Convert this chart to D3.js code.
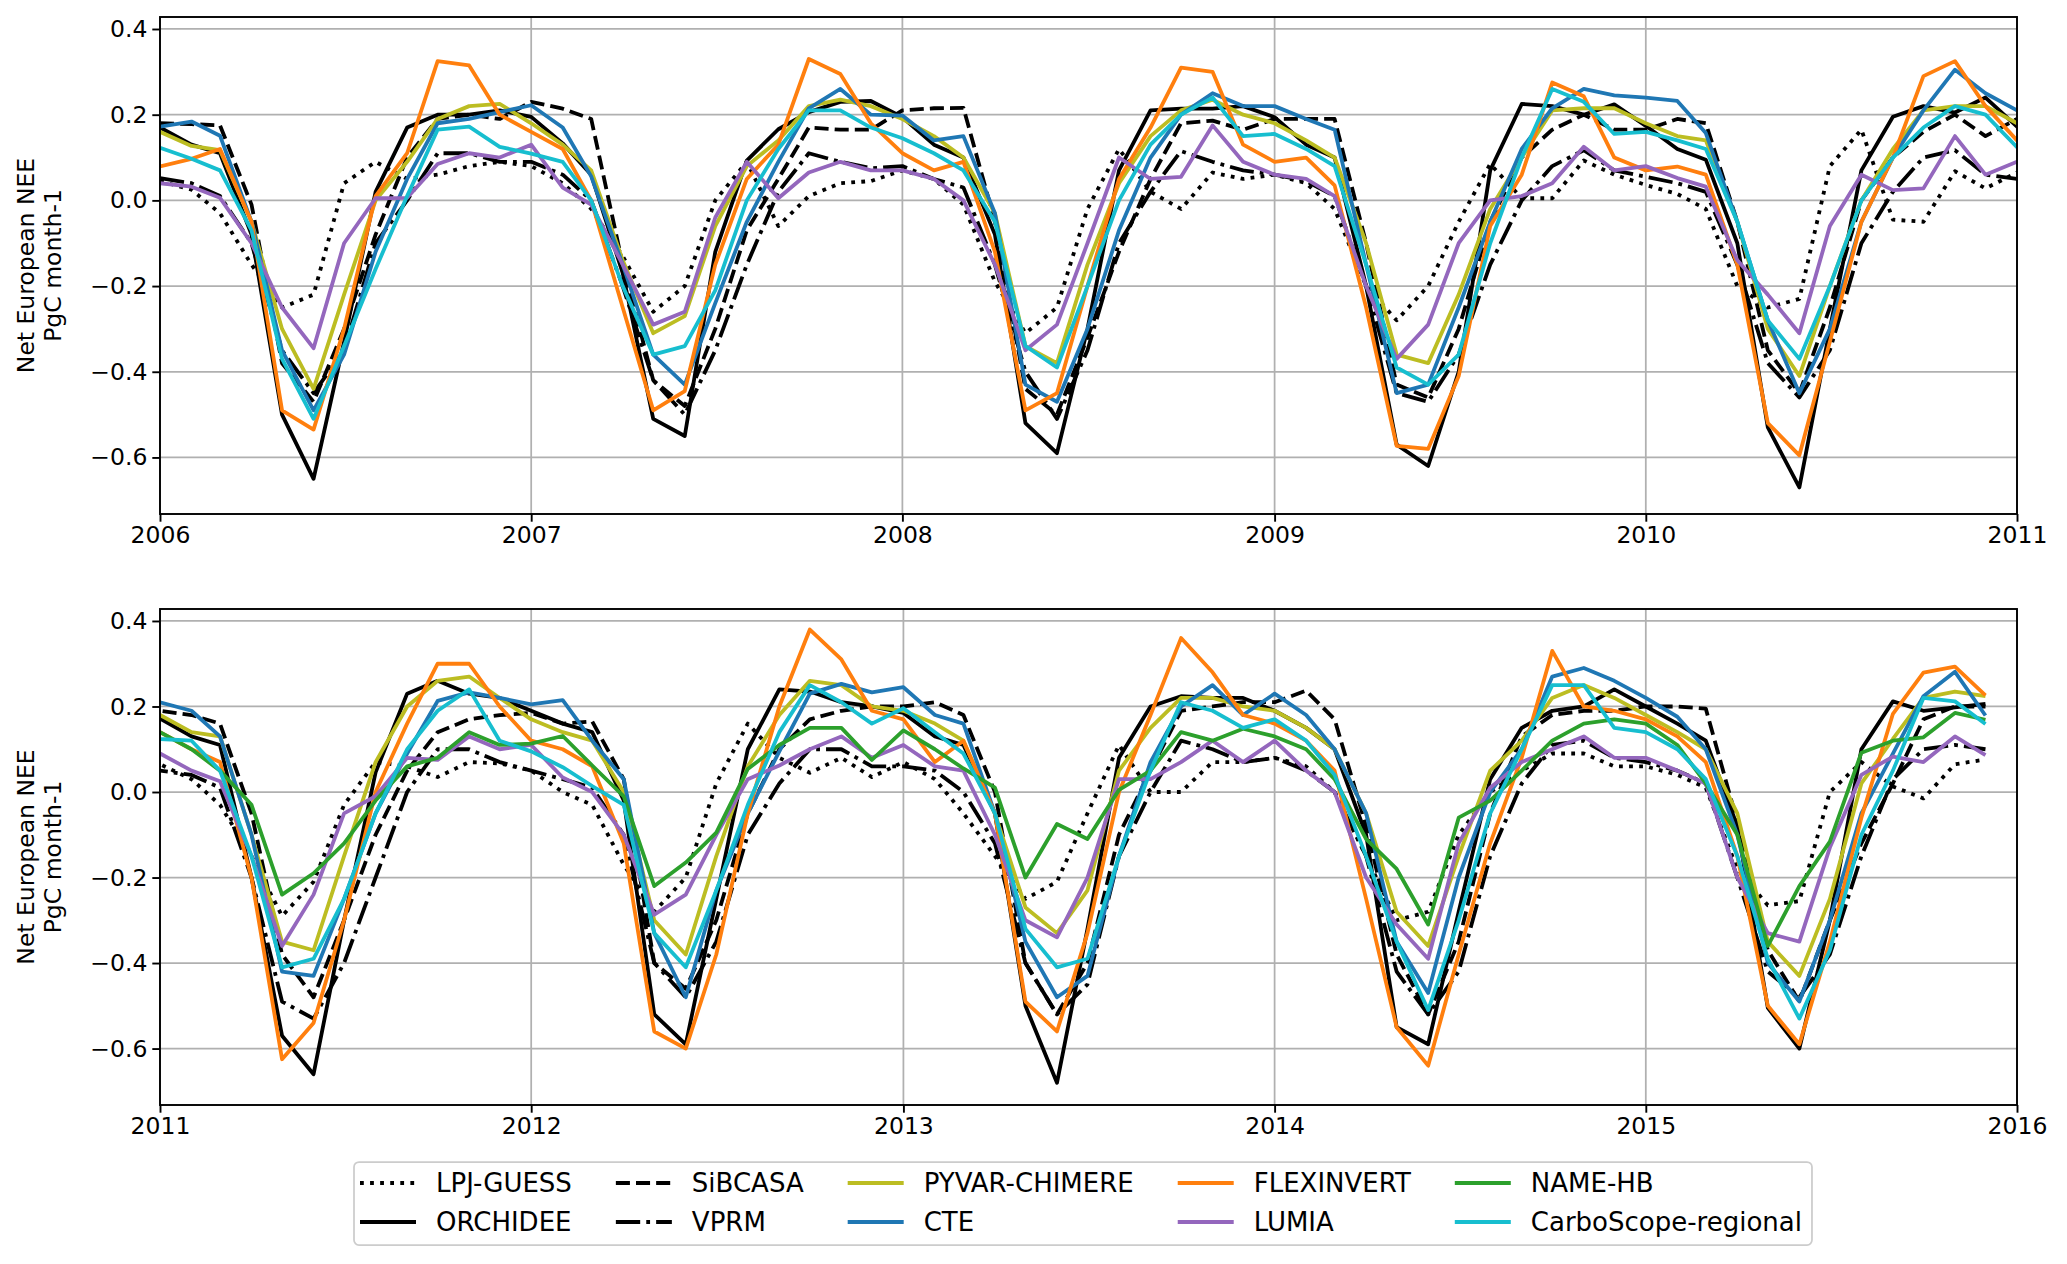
<!DOCTYPE html>
<html>
<head>
<meta charset="utf-8">
<script src="https://cdn.jsdelivr.net/npm/d3@7/dist/d3.min.js"></script>
<style>
body { margin: 0; background: #fff; }
svg text { font-family: "DejaVu Sans", sans-serif; fill: #000; }
</style>
</head>
<body>
<div id="chart"></div>
<script>
// monthly values, Jan 2006 .. Dec 2015 (PgC month-1)
var seriesNames = ["LPJ-GUESS", "ORCHIDEE", "SiBCASA", "VPRM", "PYVAR-CHIMERE",
	"CTE", "FLEXINVERT", "LUMIA", "NAME-HB", "CarboScope-regional"];

var lpjGuess = [
	0.045, 0.025, -0.03, -0.15, -0.25, -0.22, 0.04, 0.09, 0.05, 0.06, 0.08, 0.09,
	0.08, 0.04, -0.02, -0.13, -0.26, -0.20, 0.00, 0.09, -0.06, 0.01, 0.04, 0.045,
	0.07, 0.05, -0.01, -0.19, -0.31, -0.25, -0.02, 0.12, 0.02, -0.02, 0.065, 0.05,
	0.06, 0.04, -0.02, -0.20, -0.28, -0.20, -0.05, 0.085, 0.005, 0.005, 0.093, 0.06,
	0.036, 0.015, -0.02, -0.20, -0.25, -0.23, 0.08, 0.165, -0.045, -0.05, 0.068, 0.028,
	0.065, 0.03, -0.03, -0.15, -0.29, -0.21, -0.03, 0.07, 0.06, 0.035, 0.07, 0.067,
	0.05, 0.00, -0.03, -0.17, -0.28, -0.20, 0.02, 0.16, 0.08, 0.045, 0.08, 0.035,
	0.07, 0.03, -0.05, -0.15, -0.25, -0.21, -0.05, 0.11, 0.00, 0.00, 0.07, 0.07,
	0.08, 0.06, 0.00, -0.15, -0.30, -0.28, -0.10, 0.00, 0.05, 0.09, 0.09, 0.06,
	0.06, 0.04, 0.01, -0.18, -0.265, -0.255, 0.00, 0.07, 0.013, -0.015, 0.065, 0.076
];
var orchidee = [
	0.17, 0.13, 0.11, -0.08, -0.50, -0.65, -0.33, 0.02, 0.17, 0.20, 0.20, 0.21,
	0.195, 0.133, 0.06, -0.17, -0.51, -0.55, -0.12, 0.093, 0.166, 0.206, 0.23, 0.232,
	0.194, 0.13, 0.10, -0.08, -0.52, -0.59, -0.30, 0.07, 0.21, 0.214, 0.214, 0.22,
	0.194, 0.13, 0.10, -0.20, -0.57, -0.62, -0.40, 0.07, 0.225, 0.22, 0.20, 0.224,
	0.174, 0.12, 0.095, -0.10, -0.53, -0.67, -0.30, 0.07, 0.195, 0.22, 0.205, 0.24,
	0.172, 0.13, 0.11, -0.20, -0.57, -0.66, -0.30, 0.046, 0.23, 0.26, 0.23, 0.22,
	0.19, 0.16, 0.14, -0.02, -0.52, -0.59, -0.25, 0.10, 0.24, 0.235, 0.21, 0.20,
	0.185, 0.13, 0.11, -0.05, -0.50, -0.68, -0.32, 0.08, 0.20, 0.224, 0.22, 0.22,
	0.19, 0.15, 0.10, -0.10, -0.55, -0.59, -0.28, 0.03, 0.15, 0.19, 0.20, 0.24,
	0.20, 0.16, 0.12, -0.08, -0.505, -0.60, -0.30, 0.10, 0.212, 0.19, 0.198, 0.206
];
var sibcasa = [
	0.18, 0.178, 0.175, -0.01, -0.38, -0.47, -0.30, -0.08, 0.10, 0.19, 0.20, 0.19,
	0.23, 0.214, 0.19, -0.15, -0.42, -0.48, -0.30, -0.07, 0.05, 0.17, 0.165, 0.165,
	0.21, 0.215, 0.216, -0.05, -0.44, -0.50, -0.32, -0.12, 0.05, 0.18, 0.186, 0.165,
	0.19, 0.19, 0.19, -0.10, -0.43, -0.46, -0.30, -0.05, 0.10, 0.165, 0.20, 0.165,
	0.165, 0.19, 0.18, -0.05, -0.35, -0.45, -0.25, 0.00, 0.10, 0.16, 0.20, 0.15,
	0.19, 0.18, 0.16, -0.05, -0.38, -0.48, -0.30, -0.10, 0.05, 0.14, 0.17, 0.18,
	0.185, 0.16, 0.165, 0.03, -0.40, -0.46, -0.30, -0.05, 0.10, 0.17, 0.19, 0.20,
	0.20, 0.21, 0.18, 0.00, -0.40, -0.52, -0.40, -0.10, 0.05, 0.19, 0.20, 0.21,
	0.21, 0.237, 0.17, -0.08, -0.38, -0.52, -0.35, -0.05, 0.13, 0.18, 0.19, 0.19,
	0.20, 0.20, 0.195, -0.07, -0.37, -0.49, -0.30, -0.12, 0.02, 0.17, 0.20, 0.20
];
var vprm = [
	0.052, 0.04, 0.01, -0.10, -0.35, -0.45, -0.35, -0.10, 0.00, 0.11, 0.11, 0.09,
	0.09, 0.06, 0.00, -0.20, -0.42, -0.50, -0.35, -0.15, 0.02, 0.11, 0.09, 0.075,
	0.08, 0.05, 0.03, -0.15, -0.40, -0.51, -0.35, -0.10, 0.02, 0.115, 0.09, 0.07,
	0.06, 0.045, 0.01, -0.20, -0.45, -0.47, -0.36, -0.15, 0.00, 0.08, 0.117, 0.07,
	0.055, 0.04, 0.02, -0.15, -0.38, -0.46, -0.35, -0.10, 0.02, 0.10, 0.117, 0.06,
	0.05, 0.04, 0.01, -0.20, -0.49, -0.53, -0.40, -0.20, 0.00, 0.10, 0.10, 0.07,
	0.05, 0.03, 0.01, -0.10, -0.40, -0.48, -0.35, -0.10, 0.02, 0.10, 0.10, 0.06,
	0.06, 0.05, 0.00, -0.12, -0.40, -0.52, -0.45, -0.15, 0.00, 0.12, 0.10, 0.07,
	0.08, 0.05, 0.00, -0.15, -0.42, -0.52, -0.42, -0.15, 0.02, 0.11, 0.12, 0.08,
	0.07, 0.05, 0.02, -0.20, -0.42, -0.48, -0.38, -0.15, 0.03, 0.10, 0.11, 0.10
];
var pyvarChimere = [
	0.16, 0.127, 0.117, -0.05, -0.30, -0.44, -0.22, 0.00, 0.09, 0.19, 0.22, 0.225,
	0.18, 0.13, 0.07, -0.14, -0.31, -0.27, -0.06, 0.08, 0.14, 0.22, 0.235, 0.22,
	0.19, 0.15, 0.10, -0.03, -0.34, -0.38, -0.15, 0.04, 0.15, 0.21, 0.235, 0.20,
	0.18, 0.14, 0.10, -0.10, -0.36, -0.38, -0.22, -0.02, 0.10, 0.21, 0.215, 0.215,
	0.18, 0.15, 0.14, -0.05, -0.30, -0.41, -0.20, 0.00, 0.12, 0.21, 0.22, 0.22,
	0.18, 0.14, 0.13, -0.10, -0.35, -0.37, -0.15, 0.07, 0.20, 0.26, 0.27, 0.22,
	0.17, 0.14, 0.12, 0.00, -0.30, -0.38, -0.15, 0.06, 0.18, 0.26, 0.25, 0.20,
	0.19, 0.16, 0.12, -0.05, -0.27, -0.33, -0.23, 0.05, 0.15, 0.22, 0.22, 0.20,
	0.19, 0.15, 0.10, -0.05, -0.28, -0.36, -0.15, 0.05, 0.12, 0.22, 0.25, 0.22,
	0.18, 0.14, 0.10, -0.05, -0.35, -0.43, -0.25, 0.02, 0.124, 0.22, 0.235, 0.224
];
var cte = [
	0.172, 0.184, 0.151, -0.05, -0.35, -0.49, -0.36, -0.12, 0.05, 0.18, 0.19, 0.206,
	0.222, 0.17, 0.056, -0.15, -0.36, -0.43, -0.24, -0.05, 0.09, 0.215, 0.26, 0.20,
	0.198, 0.14, 0.15, -0.03, -0.43, -0.47, -0.30, -0.07, 0.10, 0.20, 0.25, 0.22,
	0.22, 0.19, 0.165, -0.15, -0.45, -0.43, -0.25, -0.05, 0.12, 0.215, 0.26, 0.245,
	0.24, 0.232, 0.157, -0.05, -0.28, -0.45, -0.30, -0.05, 0.10, 0.21, 0.305, 0.25,
	0.21, 0.19, 0.13, -0.10, -0.42, -0.43, -0.25, -0.05, 0.09, 0.213, 0.233, 0.22,
	0.205, 0.215, 0.12, 0.03, -0.33, -0.48, -0.23, -0.05, 0.095, 0.23, 0.253, 0.233,
	0.245, 0.18, 0.16, -0.05, -0.35, -0.48, -0.43, -0.15, 0.07, 0.20, 0.25, 0.18,
	0.23, 0.18, 0.10, -0.05, -0.35, -0.47, -0.20, 0.00, 0.10, 0.27, 0.29, 0.26,
	0.22, 0.176, 0.10, -0.10, -0.40, -0.49, -0.30, -0.05, 0.09, 0.224, 0.281, 0.179
];
var flexinvert = [
	0.079, 0.097, 0.12, -0.05, -0.49, -0.535, -0.30, 0.01, 0.11, 0.325, 0.315, 0.20,
	0.16, 0.12, 0.00, -0.25, -0.49, -0.445, -0.15, 0.05, 0.13, 0.33, 0.295, 0.18,
	0.11, 0.07, 0.09, -0.12, -0.49, -0.45, -0.20, 0.05, 0.17, 0.31, 0.30, 0.13,
	0.09, 0.10, 0.035, -0.25, -0.573, -0.58, -0.41, -0.06, 0.06, 0.275, 0.243, 0.10,
	0.07, 0.079, 0.06, -0.15, -0.52, -0.595, -0.33, -0.05, 0.10, 0.29, 0.325, 0.22,
	0.14, 0.10, 0.07, -0.20, -0.625, -0.54, -0.30, 0.00, 0.16, 0.30, 0.30, 0.20,
	0.12, 0.10, 0.06, -0.12, -0.56, -0.60, -0.38, -0.05, 0.20, 0.38, 0.31, 0.19,
	0.17, 0.07, 0.12, -0.05, -0.49, -0.56, -0.33, 0.00, 0.18, 0.36, 0.28, 0.18,
	0.16, 0.12, 0.05, -0.25, -0.55, -0.64, -0.38, -0.12, 0.08, 0.33, 0.20, 0.19,
	0.17, 0.13, 0.07, -0.15, -0.50, -0.59, -0.35, -0.06, 0.183, 0.279, 0.293, 0.226
];
var lumia = [
	0.04, 0.032, 0.006, -0.10, -0.25, -0.345, -0.10, 0.005, 0.006, 0.085, 0.11, 0.10,
	0.13, 0.03, -0.01, -0.15, -0.29, -0.26, -0.04, 0.09, 0.005, 0.065, 0.09, 0.07,
	0.07, 0.05, 0.00, -0.15, -0.35, -0.29, -0.10, 0.10, 0.05, 0.055, 0.175, 0.09,
	0.06, 0.05, 0.01, -0.20, -0.37, -0.29, -0.10, 0.00, 0.01, 0.04, 0.125, 0.07,
	0.08, 0.052, 0.032, -0.14, -0.22, -0.31, -0.06, 0.06, 0.024, 0.028, 0.15, 0.06,
	0.09, 0.05, 0.025, -0.15, -0.36, -0.24, -0.05, -0.01, 0.08, 0.075, 0.13, 0.10,
	0.11, 0.034, 0.00, -0.10, -0.287, -0.24, -0.10, 0.03, 0.062, 0.10, 0.13, 0.08,
	0.11, 0.06, 0.05, -0.10, -0.30, -0.34, -0.20, 0.03, 0.03, 0.07, 0.12, 0.07,
	0.12, 0.05, 0.00, -0.20, -0.31, -0.39, -0.12, 0.01, 0.07, 0.10, 0.13, 0.08,
	0.08, 0.05, 0.02, -0.20, -0.33, -0.35, -0.13, 0.04, 0.083, 0.07, 0.13, 0.086
];
var nameHb = [
	null, null, null, null, null, null, null, null, null, null, null, null,
	null, null, null, null, null, null, null, null, null, null, null, null,
	null, null, null, null, null, null, null, null, null, null, null, null,
	null, null, null, null, null, null, null, null, null, null, null, null,
	null, null, null, null, null, null, null, null, null, null, null, null,
	0.14, 0.10, 0.05, -0.03, -0.24, -0.19, -0.12, -0.02, 0.06, 0.08, 0.14, 0.11,
	0.113, 0.131, 0.062, -0.01, -0.22, -0.165, -0.095, 0.054, 0.11, 0.15, 0.15, 0.075,
	0.144, 0.10, 0.055, 0.01, -0.20, -0.075, -0.11, 0.005, 0.05, 0.14, 0.12, 0.148,
	0.13, 0.10, 0.03, -0.11, -0.18, -0.31, -0.06, -0.02, 0.05, 0.12, 0.16, 0.17,
	0.16, 0.11, 0.02, -0.10, -0.36, -0.22, -0.116, 0.092, 0.12, 0.128, 0.185, 0.169
];
var carboScope = [
	0.123, 0.097, 0.07, -0.07, -0.37, -0.51, -0.34, -0.16, 0.01, 0.165, 0.172, 0.125,
	0.109, 0.09, 0.00, -0.20, -0.36, -0.34, -0.21, 0.00, 0.12, 0.21, 0.21, 0.17,
	0.145, 0.11, 0.07, -0.05, -0.34, -0.39, -0.20, 0.00, 0.13, 0.20, 0.24, 0.15,
	0.155, 0.12, 0.08, -0.15, -0.39, -0.43, -0.36, -0.10, 0.10, 0.26, 0.23, 0.155,
	0.16, 0.14, 0.12, -0.05, -0.28, -0.37, -0.20, 0.00, 0.10, 0.17, 0.22, 0.20,
	0.124, 0.12, 0.05, -0.15, -0.41, -0.39, -0.25, -0.05, 0.10, 0.19, 0.24, 0.12,
	0.095, 0.058, 0.014, -0.03, -0.33, -0.41, -0.23, -0.03, 0.14, 0.25, 0.21, 0.16,
	0.196, 0.14, 0.09, -0.05, -0.32, -0.41, -0.39, -0.15, 0.05, 0.21, 0.19, 0.15,
	0.17, 0.12, 0.04, -0.15, -0.35, -0.51, -0.30, -0.05, 0.10, 0.25, 0.25, 0.15,
	0.14, 0.10, 0.03, -0.15, -0.39, -0.53, -0.37, -0.10, 0.05, 0.22, 0.212, 0.159
];

var yearTicks = [[2006, 2007, 2008, 2009, 2010, 2011], [2011, 2012, 2013, 2014, 2015, 2016]];
var yTicks = [0.4, 0.2, 0.0, -0.2, -0.4, -0.6];
var yLabel = ["Net European NEE", "PgC month-1"];

var allValues = [lpjGuess, orchidee, sibcasa, vprm, pyvarChimere, cte, flexinvert, lumia, nameHb, carboScope];

var W = 2067, H = 1264;
var LEFT = 160, RIGHT = 2017;
var LW = 3.8;
var panels = [
	{ top: 17, bottom: 514 },
	{ top: 609, bottom: 1105 }
];
var styles = [
	{ color: "#000000", dash: [1, 1.65] },
	{ color: "#000000", dash: null },
	{ color: "#000000", dash: [3.7, 1.6] },
	{ color: "#000000", dash: [6.4, 1.6, 1, 1.6] },
	{ color: "#bcbd22", dash: null },
	{ color: "#1f77b4", dash: null },
	{ color: "#ff7f0e", dash: null },
	{ color: "#9467bd", dash: null },
	{ color: "#2ca02c", dash: null },
	{ color: "#17becf", dash: null }
];
function dashArray(s) {
	return s.dash ? s.dash.map(function (d) { return d * LW; }).join(",") : null;
}

var series = seriesNames.map(function (name, k) {
	return {
		name: name,
		style: styles[k],
		points: allValues[k].map(function (v, i) {
			return { date: new Date(Date.UTC(2006, i, 1)), v: v };
		})
	};
});

var svg = d3.select("#chart").append("svg")
	.attr("width", W)
	.attr("height", H);

var y = d3.scaleLinear().domain([-0.732, 0.428]);

panels.forEach(function (p, idx) {
	var years = yearTicks[idx];
	var x = d3.scaleUtc()
		.domain([new Date(Date.UTC(years[0], 0, 1)), new Date(Date.UTC(years[years.length - 1], 0, 1))])
		.range([LEFT, RIGHT]);
	var py = y.copy().range([p.bottom, p.top]);
	var g = svg.append("g");

	g.append("clipPath").attr("id", "clip" + idx)
		.append("rect")
		.attr("x", LEFT).attr("y", p.top)
		.attr("width", RIGHT - LEFT).attr("height", p.bottom - p.top);

	var tickDates = years.map(function (yr) { return new Date(Date.UTC(yr, 0, 1)); });

	// grid
	var grid = g.append("g").attr("stroke", "#b0b0b0").attr("stroke-width", 1.75);
	grid.selectAll(".gx").data(tickDates).enter().append("line")
		.attr("x1", function (d) { return x(d); }).attr("x2", function (d) { return x(d); })
		.attr("y1", p.top).attr("y2", p.bottom);
	grid.selectAll(".gy").data(yTicks).enter().append("line")
		.attr("x1", LEFT).attr("x2", RIGHT)
		.attr("y1", function (d) { return py(d); }).attr("y2", function (d) { return py(d); });

	var line = d3.line()
		.defined(function (d) { return d.v !== null; })
		.x(function (d) { return x(d.date); })
		.y(function (d) { return py(d.v); });

	var lines = g.append("g").attr("clip-path", "url(#clip" + idx + ")");
	series.forEach(function (s) {
		lines.append("path")
			.datum(s.points)
			.attr("d", line)
			.attr("fill", "none")
			.attr("stroke", s.style.color)
			.attr("stroke-width", LW)
			.attr("stroke-linejoin", "round")
			.attr("stroke-dasharray", dashArray(s.style));
	});

	g.append("rect")
		.attr("x", LEFT).attr("y", p.top)
		.attr("width", RIGHT - LEFT).attr("height", p.bottom - p.top)
		.attr("fill", "none").attr("stroke", "#000").attr("stroke-width", 1.9);

	var xAxis = g.append("g")
		.attr("transform", "translate(0," + p.bottom + ")")
		.call(d3.axisBottom(x).tickValues(tickDates).tickFormat(d3.utcFormat("%Y"))
			.tickSize(7.7).tickPadding(4.9));
	var yAxis = g.append("g")
		.attr("transform", "translate(" + LEFT + ",0)")
		.call(d3.axisLeft(py).tickValues(yTicks).tickFormat(d3.format(".1f"))
			.tickSize(7.7).tickPadding(4.9));
	[xAxis, yAxis].forEach(function (a) {
		a.select(".domain").remove();
		a.selectAll(".tick line").attr("stroke", "#000").attr("stroke-width", 1.9);
		a.selectAll(".tick text")
			.attr("font-family", "DejaVu Sans")
			.attr("font-size", 23.5)
			.attr("fill", "#000");
	});

	var cy = (p.top + p.bottom) / 2;
	yLabel.forEach(function (t, j) {
		g.append("text")
			.attr("transform", "translate(" + (34 + j * 27) + "," + cy + ") rotate(-90)")
			.attr("text-anchor", "middle")
			.attr("font-size", 23.5)
			.text(t);
	});
});

// legend, 5 columns x 2 rows, column-major order
var legend = svg.append("g");
var legBox = legend.append("rect")
	.attr("x", 354).attr("y", 1162)
	.attr("height", 83)
	.attr("rx", 5).attr("ry", 5)
	.attr("fill", "#fff").attr("fill-opacity", 0.8)
	.attr("stroke", "#cccccc").attr("stroke-width", 1.75);

var rowY = [1183, 1222];
var textX = 436;
var handleLen = 56, handlePad = 20, colGap = 120;
for (var c = 0; c < 5; c++) {
	var maxW = 0;
	for (var r = 0; r < 2; r++) {
		var k = c * 2 + r;
		var s = series[k];
		legend.append("line")
			.attr("x1", textX - handlePad - handleLen).attr("x2", textX - handlePad)
			.attr("y1", rowY[r]).attr("y2", rowY[r])
			.attr("stroke", s.style.color)
			.attr("stroke-width", LW)
			.attr("stroke-dasharray", dashArray(s.style));
		var t = legend.append("text")
			.attr("x", textX).attr("y", rowY[r] + 9)
			.attr("font-size", 26)
			.text(s.name);
		maxW = Math.max(maxW, t.node().getComputedTextLength());
	}
	if (c < 4) textX += maxW + colGap;
	else textX += maxW;
}
legBox.attr("width", textX + 10 - 354);
</script>
</body>
</html>
